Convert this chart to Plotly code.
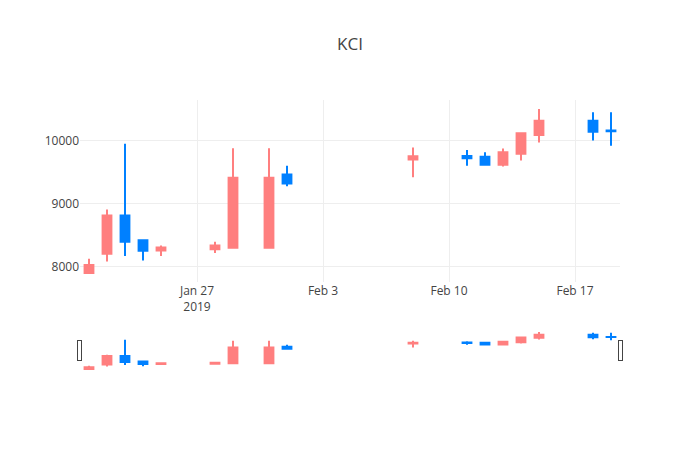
import plotly.graph_objects as go

dates = ["2019-01-21", "2019-01-22", "2019-01-23", "2019-01-24", "2019-01-25",
         "2019-01-28", "2019-01-29", "2019-01-31", "2019-02-01",
         "2019-02-08", "2019-02-11", "2019-02-12", "2019-02-13", "2019-02-14",
         "2019-02-15", "2019-02-18", "2019-02-19"]
open_ = [7900, 8205, 8810, 8420, 8255, 8275, 8300, 8300, 9460,
         9700, 9755, 9745, 9615, 9790, 10090, 10315, 10160]
high = [8125, 8905, 9950, 8420, 8335, 8395, 9880, 9880, 9600,
        9890, 9850, 9815, 9875, 10115, 10500, 10450, 10450]
low = [7900, 8080, 8170, 8095, 8170, 8215, 8300, 8300, 9275,
       9420, 9600, 9600, 9590, 9685, 9970, 10000, 9920]
close = [8025, 8810, 8395, 8250, 8305, 8335, 9410, 9410, 9320,
         9750, 9720, 9615, 9815, 10115, 10315, 10140, 10150]

RED = "#FF7F7F"
BLUE = "#0080FF"

fig = go.Figure(go.Candlestick(
    x=dates, open=open_, high=high, low=low, close=close,
    increasing=dict(line=dict(color=RED), fillcolor=RED),
    decreasing=dict(line=dict(color=BLUE), fillcolor=BLUE),
))

fig.update_layout(
    title=dict(text="KCI", x=0.5),
    width=700, height=450,
    template="none",
    font=dict(family="Open Sans", color="#444"),
    showlegend=False,
    yaxis=dict(tickformat="d", dtick=1000, gridcolor="#eee", zeroline=False),
    xaxis=dict(rangeslider=dict(visible=True), gridcolor="#eee"),
)

fig.write_html("out.html")
